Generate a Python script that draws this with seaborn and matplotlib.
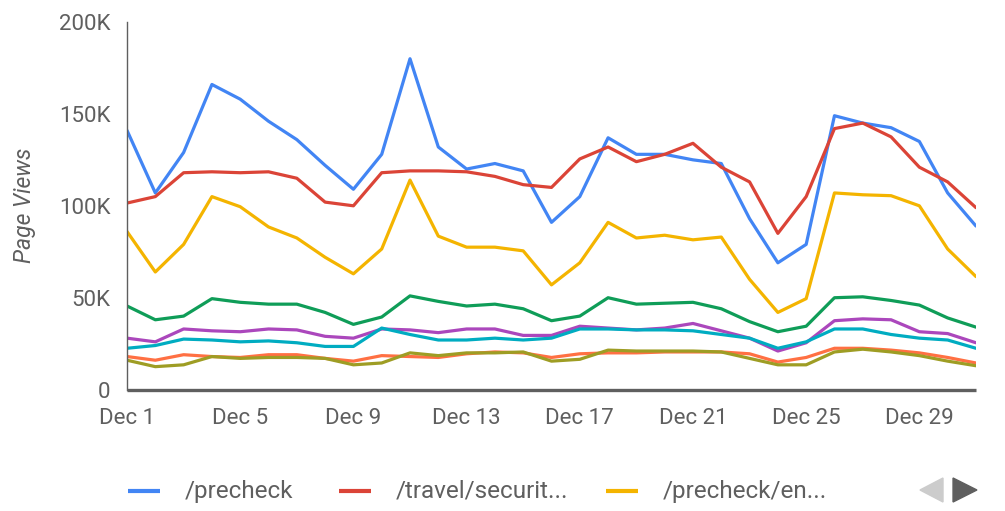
import pandas as pd
import matplotlib.pyplot as plt
import seaborn as sns
from matplotlib.lines import Line2D
from matplotlib.patches import Polygon

# -------------------------------
# Data (page views, in thousands)
# -------------------------------

days = list(range(1, 32))

precheck = [141, 107, 129, 166, 158, 146, 136, 122, 109, 128, 180, 132, 120, 123, 119, 91,
            105, 137, 128, 128, 125, 123, 93, 69, 79, 149, 145, 142.5, 135, 107, 89]
travel_security = [101.5, 105, 118, 118.5, 118, 118.5, 115, 102, 100, 118, 119, 119, 118.5, 116,
                   111.5, 110, 125.5, 132, 124, 128, 134, 121, 113, 85, 105, 142, 145, 137.5,
                   121, 113, 99]
precheck_en = [86, 64, 79, 105, 99.5, 88.5, 82.5, 72, 63, 76.5, 114, 83.5, 77.5, 77.5, 75.5, 57,
               69, 91, 82.5, 84, 81.5, 83, 60, 42, 49.5, 107, 106, 105.5, 100, 76.5, 61.5]
series_4 = [45.5, 38, 40, 49.5, 47.5, 46.5, 46.5, 42, 35.5, 39.5, 51, 48, 45.5, 46.5, 44, 37.5,
            40, 50, 46.5, 47, 47.5, 44, 37, 31.5, 34.5, 50, 50.5, 48.5, 46, 39, 34]
series_5 = [28, 26, 33, 32, 31.5, 33, 32.5, 29, 28, 33, 32.5, 31, 33, 33, 29.5, 29.5,
            34.5, 33.5, 32.5, 33.5, 36, 32, 28, 21, 25.5, 37.5, 38.5, 38, 31.5, 30.5, 25.5]
series_6 = [22.5, 24, 27.5, 27, 26, 26.5, 25.5, 23.5, 23.5, 33.5, 30, 27, 27, 28, 27, 28,
            33, 33, 32.5, 32.5, 32, 30, 28, 22.5, 26, 33, 33, 30, 28, 27, 22.5]
series_7 = [18, 16, 19, 18, 17.5, 19, 19, 17, 15.5, 18.5, 18, 17.5, 19.5, 20.5, 20, 17.5,
            19.5, 20, 20, 20.5, 20.5, 20.5, 19.5, 15, 17.5, 22.5, 22.5, 21.5, 20, 17.5, 14.5]
series_8 = [16, 12.5, 13.5, 18, 17, 17.5, 17.5, 17, 13.5, 14.5, 20, 18.5, 20, 20, 20.5, 15.5,
            16.5, 21.5, 21, 21, 21, 20.5, 17, 13.5, 13.5, 20.5, 22, 20.5, 18.5, 15.5, 13]

series_names = ["/precheck", "/travel/securit...", "/precheck/en...",
                "s4", "s5", "s6", "s7", "s8"]
series_values = [precheck, travel_security, precheck_en,
                 series_4, series_5, series_6, series_7, series_8]
colors = ["#4285F4", "#DB4437", "#F4B400", "#0F9D58",
          "#AB47BC", "#00ACC1", "#FF7043", "#9E9D24"]

tick_days = [1, 5, 9, 13, 17, 21, 25, 29]
y_ticks = [0, 50, 100, 150, 200]
y_labels = ["0", "50K", "100K", "150K", "200K"]

rows = []
for name, vals in zip(series_names, series_values):
    for d, v in zip(days, vals):
        rows.append({"day": d, "views": v * 1000, "page": name})
df = pd.DataFrame(rows)

sns.set_style("white")
plt.rcParams["font.family"] = ["Roboto", "DejaVu Sans"]

text_gray = "#5f5f5f"

# -------------------------------
# Plot
# -------------------------------

fig = plt.figure(figsize=(10.05, 5.11), dpi=100)
ax = fig.add_axes([0.1264, 0.2375, 0.8447, 0.7195])

sns.lineplot(
    data=df,
    x="day",
    y="views",
    hue="page",
    palette=dict(zip(series_names, colors)),
    linewidth=2.3,
    legend=False,
    ax=ax
)

ax.set_xlim(days[0], days[-1])
ax.set_ylim(0, 200000)
ax.set_xticks(tick_days)
ax.set_xticklabels([f"Dec {d}" for d in tick_days])
ax.set_yticks([t * 1000 for t in y_ticks])
ax.set_yticklabels(y_labels)
ax.tick_params(axis="both", length=0, labelsize=16, colors=text_gray)
ax.tick_params(axis="x", pad=13)
ax.tick_params(axis="y", pad=12)
ax.set_xlabel("")
ax.set_ylabel("Page Views", fontsize=16.5, style="italic", color=text_gray)
ax.yaxis.set_label_coords(-0.107, 0.5)

for side in ["top", "right"]:
    ax.spines[side].set_visible(False)
ax.spines["left"].set_color(text_gray)
ax.spines["left"].set_linewidth(1.0)
ax.spines["bottom"].set_color(text_gray)
ax.spines["bottom"].set_linewidth(2.4)
ax.spines["bottom"].set_capstyle("butt")

# legend (paged: only the first three entries are visible)
legend_x = [128, 339, 606]
legend_y = 1 - 491 / 511
for lx, name, c in zip(legend_x, series_names[:3], colors[:3]):
    fig.add_artist(Line2D([lx / 1005, (lx + 32) / 1005], [legend_y, legend_y],
                          color=c, linewidth=3, transform=fig.transFigure,
                          solid_capstyle="butt"))
    fig.text((lx + 57) / 1005, legend_y, name, fontsize=17.5, color=text_gray,
             va="center", ha="left")

# page arrows
fig.patches.append(Polygon([[0.9383, 0.0646], [0.9383, 0.0176], [0.9154, 0.0411]],
                           closed=True, transform=fig.transFigure, color="#cccccc"))
fig.patches.append(Polygon([[0.9483, 0.0646], [0.9483, 0.0176], [0.9721, 0.0411]],
                           closed=True, transform=fig.transFigure, color=text_gray))

plt.savefig("out.png", dpi=100)
